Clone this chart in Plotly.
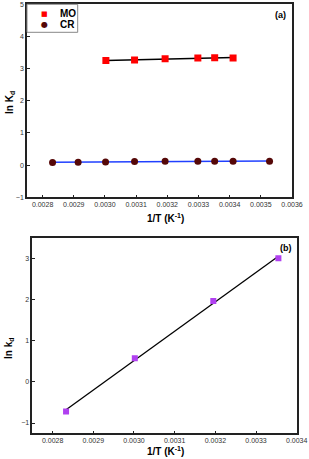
import numpy as np
import plotly.graph_objects as go

# Panel (a)
mo_x = [0.003003, 0.003095, 0.003193, 0.003298, 0.003352, 0.003411]
mo_y = [3.25, 3.27, 3.31, 3.33, 3.34, 3.33]
cr_x = [0.002832, 0.002914, 0.003002, 0.003095, 0.003193, 0.003298, 0.003352, 0.003411, 0.003528]
cr_y = [0.08, 0.09, 0.10, 0.11, 0.12, 0.12, 0.12, 0.12, 0.12]
# Panel (b)
b_x = [0.002833, 0.003002, 0.003195, 0.003355]
b_y = [-0.72, 0.57, 1.96, 3.00]

xticks_a = [0.0028, 0.0029, 0.0030, 0.0031, 0.0032, 0.0033, 0.0034, 0.0035, 0.0036]
xticks_b = [0.0028, 0.0029, 0.0030, 0.0031, 0.0032, 0.0033, 0.0034]

series_names = ["MO", "CR"]
series_colors = ["#ff0000", "#550808"]
series_symbols = ["■", "●"]


def fit(x, y):
    k, c = np.polyfit(x, y, 1)
    xs = np.array([min(x), max(x)])
    return xs, k * xs + c


W, H = 309, 459
FONT = "Liberation Sans, Arial, sans-serif"
fig = go.Figure()

fx, fy = fit(mo_x, mo_y)
fig.add_trace(go.Scatter(x=fx, y=fy, mode="lines", line=dict(color="black", width=1.5),
                         showlegend=False, xaxis="x", yaxis="y"))
fx, fy = fit(cr_x, cr_y)
fig.add_trace(go.Scatter(x=fx, y=fy, mode="lines", line=dict(color="#2040ff", width=1.5),
                         showlegend=False, xaxis="x", yaxis="y"))
fig.add_trace(go.Scatter(x=mo_x, y=mo_y, mode="markers", name=series_names[0], showlegend=False,
                         marker=dict(symbol="square", size=7, color=series_colors[0]),
                         xaxis="x", yaxis="y"))
fig.add_trace(go.Scatter(x=cr_x, y=cr_y, mode="markers", name=series_names[1], showlegend=False,
                         marker=dict(symbol="circle", size=7, color=series_colors[1]),
                         xaxis="x", yaxis="y"))

fx, fy = fit(b_x, b_y)
fig.add_trace(go.Scatter(x=fx, y=fy, mode="lines", line=dict(color="black", width=1.3),
                         showlegend=False, xaxis="x2", yaxis="y2"))
fig.add_trace(go.Scatter(x=b_x, y=b_y, mode="markers", showlegend=False,
                         marker=dict(symbol="square", size=6, color="#b040f0"),
                         xaxis="x2", yaxis="y2"))

tickfont = dict(family=FONT, size=7, color="#333333")

common = dict(showline=True, linecolor="#222222", linewidth=1.5, mirror=True,
              ticks="inside", ticklen=3, tickwidth=1, tickcolor="#222222",
              showgrid=False, zeroline=False, tickfont=tickfont, automargin=False)

fig.update_layout(
    width=W, height=H,
    margin=dict(l=0, r=0, t=0, b=0),
    paper_bgcolor="white", plot_bgcolor="white",
    showlegend=False,
    xaxis=dict(domain=[27 / W, 292 / W], range=[0.00275, 0.0036], anchor="y",
               tickvals=xticks_a, ticktext=[f"{v:.4f}" for v in xticks_a], **common),
    yaxis=dict(domain=[(H - 197.3) / H, (H - 4.3) / H], range=[-1, 5], anchor="x",
               dtick=1, **common),
    xaxis2=dict(domain=[32.3 / W, 296.7 / W], range=[0.00275, 0.0034], anchor="y2",
                tickvals=xticks_b, ticktext=[f"{v:.4f}" for v in xticks_b], **common),
    yaxis2=dict(domain=[(H - 433.3) / H, (H - 237.7) / H], range=[-1.25, 3.5], anchor="x2",
                dtick=1, **common),
)

# legend box (panel a)
fig.add_shape(type="rect", xref="paper", yref="paper",
              x0=27 / W, x1=77.7 / W, y0=(H - 32.3) / H, y1=(H - 4.3) / H,
              line=dict(color="#888888", width=1), fillcolor="white", layer="above")
for i, (nm, col, sym) in enumerate(zip(series_names, series_colors, series_symbols)):
    yy = 13.7 + i * 11.3
    fig.add_annotation(text=sym, x=44 / W, y=(H - yy) / H, xref="paper", yref="paper",
                       xanchor="center", yanchor="middle", showarrow=False,
                       font=dict(family="DejaVu Sans", size=7 if i == 0 else 8, color=col))
    fig.add_annotation(text=f"<b>{nm}</b>", x=58 / W, y=(H - yy) / H, xref="paper", yref="paper",
                       xanchor="left", yanchor="middle", showarrow=False,
                       font=dict(family=FONT, size=10, color="black"))

annots = [
    ("<b>(a)</b>", 280, 15, 0, 9),
    ("<b>(b)</b>", 286, 247.7, 0, 9),
    ("<b>1/T (K<sup>-1</sup>)</b>", 165, 218, 0, 10),
    ("<b>1/T (K<sup>-1</sup>)</b>", 165, 451, 0, 10),
    ("<b>ln K<sub>d</sub></b>", 10, 103, -90, 10),
    ("<b>ln k<sub>d</sub></b>", 9, 348, -90, 10),
]
for text, px, py, ang, fs in annots:
    fig.add_annotation(text=text, x=px / W, y=(H - py) / H, xref="paper", yref="paper",
                       xanchor="center", yanchor="middle", textangle=ang, showarrow=False,
                       font=dict(family=FONT, size=fs, color="black"))

fig.write_html("out.html", config={"displayModeBar": False},
               post_script="document.body.style.margin='0';document.body.style.padding='0';")
